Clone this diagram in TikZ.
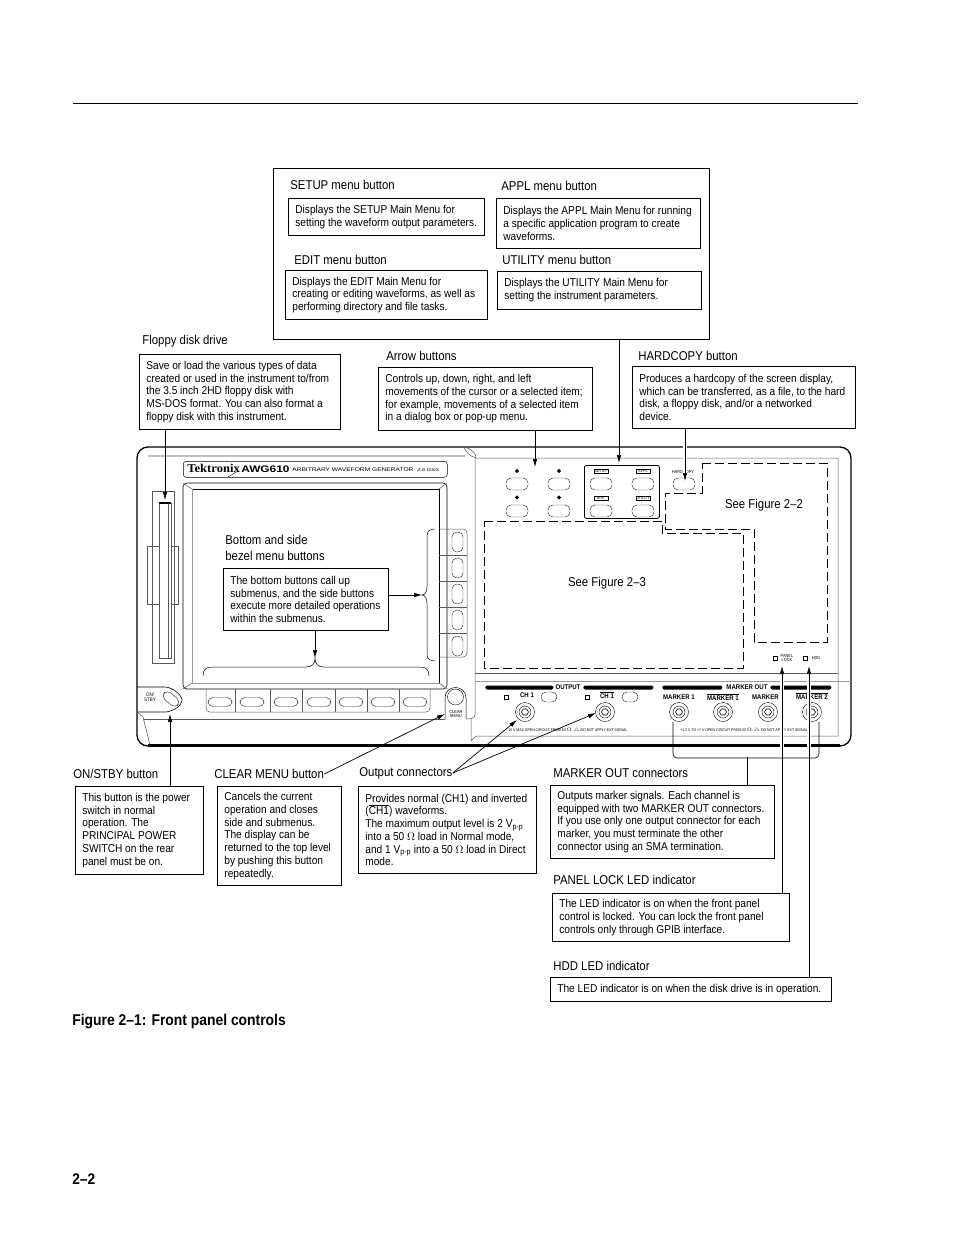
\documentclass[tikz,border=0pt]{standalone}
\usepackage{fontspec}
\setmainfont{Liberation Sans}[FakeStretch=0.89]
\newfontfamily\logoserif{Liberation Serif}[FakeStretch=1.05]
\newfontfamily\widesans{Liberation Sans}[FakeStretch=1.25]
\usetikzlibrary{arrows.meta}
\usetikzlibrary{shapes.geometric}
\tikzset{
  infobox/.style={draw=black,line width=0.8pt,anchor=north west,align=flush left,inner xsep=7pt,inner ysep=0pt,font=\fontsize{11.4}{12.75}\selectfont,execute at end node={\rightskip=-6pt plus 1fil\relax}},
  boxw/.code={\pgfmathsetmacro\boxtextw{#1-14}\tikzset{text width=\boxtextw pt}},
  tag/.style={anchor=west,inner sep=0pt,font=\fontsize{12.8}{15.8}\selectfont,align=left},
  capsule/.style={draw=black!80,line width=0.45pt,rounded corners=5pt,minimum width=22pt,minimum height=12pt,inner sep=0pt},
  tiny/.style={inner sep=0pt,font=\fontsize{4.4}{4.8}\selectfont,align=center},
  tinybold/.style={inner sep=0pt,font=\fontsize{6.8}{7}\selectfont\bfseries},
  blackbar/.style={draw=none,fill=black,rounded corners=1.5pt,anchor=west,inner sep=0pt,minimum height=4pt},
  ledlamp/.style={draw=black,line width=0.4pt,inner sep=0pt,minimum size=4pt},
  jack/.style={draw=black,line width=0.4pt,circle,inner sep=0pt},
  halo/.style={preaction={draw=white,line width=3.5pt}},
  zone/.style={draw=black,line width=1pt,dash pattern=on 9pt off 4pt},
  thinline/.style={draw=black!65,line width=0.5pt}
}
\begin{document}
\begin{tikzpicture}[x=1pt,y=-1pt,>={Latex[length=8pt,width=4.5pt]},line width=0.7pt]
    \useasboundingbox (0,0) rectangle (954,1235);
    \draw[line width=0.8pt] (73,103) -- (858,103);

    \node[draw=black,line width=0.8pt,anchor=north west,minimum width=436pt,minimum height=171pt,inner sep=0pt] (menuframe) at (273,168) {};
    \node[tag] (setuptag) at (290,185) {SETUP menu button};
    \node[infobox,boxw=196,minimum height=37pt] (setupbox) at (288,198) {Displays the SETUP Main Menu for\\setting the waveform output parameters.};
    \node[tag] (appltag) at (501,186) {APPL menu button};
    \node[infobox,boxw=204,minimum height=50pt] (applbox) at (496,198) {Displays the APPL Main Menu for running\\a specific application program to create\\waveforms.};
    \node[tag] (edittag) at (294,260) {EDIT menu button};
    \node[infobox,boxw=202,minimum height=49pt] (editbox) at (285,270) {Displays the EDIT Main Menu for\\creating or editing waveforms, as well as\\performing directory and file tasks.};
    \node[tag] (utiltag) at (502,260) {UTILITY menu button};
    \node[infobox,boxw=204,minimum height=38pt] (utilbox) at (497,271) {Displays the UTILITY Main Menu for\\setting the instrument parameters.};

    \node[tag] (floppytag) at (142,341) {Floppy disk drive};
    \node[infobox,boxw=201,minimum height=75pt] (floppybox) at (139,354) {Save or load the various types of data\\created or used in the instrument to/from\\the 3.5 inch 2HD floppy disk with\\MS-DOS format. You can also format a\\floppy disk with this instrument.};
    \node[tag] (arrowtag) at (386,356) {Arrow buttons};
    \node[infobox,boxw=214,minimum height=63pt] (arrowbox) at (378,367) {Controls up, down, right, and left\\movements of the cursor or a selected item;\\for example, movements of a selected item\\in a dialog box or pop-up menu.};
    \node[tag] (hardtag) at (638,356) {HARDCOPY button};
    \node[infobox,boxw=223,minimum height=62pt] (hardbox) at (632,366) {Produces a hardcopy of the screen display,\\which can be transferred, as a file, to the hard\\disk, a floppy disk, and/or a networked\\device.};

    \draw[line width=1.3pt,rounded corners=11pt] (137,447) rectangle (851,746);
    \draw[line width=2.4pt] (148,745.5) -- (840,745.5);
    \draw[thinline,line width=1.3pt,draw=black!25] (148,456) -- (465,456);
    \draw[thinline] (476,458) -- (838,458) -- (838,736) -- (476,736) -- (471,741) -- (471,719);
    \draw[thinline] (475,458) -- (475,714) .. controls (475,718) and (472,719) .. (466,719);
    \draw[thinline] (464,447) .. controls (472,449) and (476,453) .. (476,458) .. controls (470,456) and (465,452) .. (464,447);
    \draw[thinline] (475,673) -- (838,673);
    \draw[thinline,draw=black!40] (475,681) -- (851,681);

    \node[draw=black,line width=0.5pt,rounded corners=3pt,anchor=north west,minimum width=264pt,minimum height=16pt,inner sep=0pt] (logobox) at (183,461) {};
    \node[inner sep=0pt,anchor=west,font=\fontsize{12}{12}\logoserif\bfseries] (tekname) at (187,468.5) {Tektronix};
    \draw[line width=0.4pt] (228,477) -- (238,471);
    \node[inner sep=0pt,anchor=west,font=\fontsize{9.5}{10}\widesans\bfseries] (awgname) at (241,469) {AWG610};
    \node[inner sep=0pt,anchor=west,font=\fontsize{5.3}{6}\widesans] (awgtext) at (292,469.5) {ARBITRARY WAVEFORM GENERATOR};
    \node[inner sep=0pt,anchor=west,font=\fontsize{4.5}{5}\widesans\itshape] (gstext) at (417,469.5) {2.6 GS/s};

    \draw[line width=0.6pt,rounded corners=4pt] (183,483) rectangle (447,689);
    \draw[line width=1pt] (192,489) -- (439,489) -- (439,683);
    \draw[thinline,draw=black!40] (192,489) -- (192,683) -- (439,683);
    \draw[thinline] (183,483) -- (192,489) (447,483) -- (439,489) (183,689) -- (192,683) (447,689) -- (439,683);

    \draw[thinline] (152,491) rectangle (174,663);
    \draw[thinline] (147,546) rectangle (178,604);
    \draw[thinline,fill=white] (159,503) rectangle (171,658);
    \draw[thinline] (168.5,503) -- (168.5,658);
    \draw[line width=1.2pt] (159,503) -- (171,503);

    \draw[thinline,rounded corners=4pt] (439,529) -- (467,529) -- (467,657) -- (439,657);
    \foreach \y/\n in {555/a,581/b,607/c,633/d} {
      \draw[thinline] (439,\y) -- (467,\y);
    }
    \foreach \y/\n in {542/a,568/b,594/c,620/d,646/e} {
      \node[capsule,minimum width=11pt,minimum height=20pt] (side\n) at (457.5,\y) {};
    }
    \draw[thinline,rounded corners=4pt] (206,689) -- (206,712) -- (430,712) -- (430,689);
    \foreach \x in {235,270,302,335,367,399} {
      \draw[thinline] (\x,689) -- (\x,712);
    }
    \foreach \x/\n in {220/a,252/b,286/c,319/d,351/e,383/f,415/g} {
      \node[capsule,minimum width=24pt,minimum height=9pt] (bottom\n) at (\x,702) {};
    }

    \draw[line width=0.6pt] (137,687) -- (165,687) .. controls (172,687) and (182,695) .. (182,700) .. controls (182,706) and (172,712) .. (165,712) -- (137,712);
    \node[tiny,font=\fontsize{5}{5.4}\selectfont] (onstbytext) at (150,697) {ON/\\STBY};
    \node[capsule,minimum width=18pt,minimum height=9pt,rotate=-40] (onstbybtn) at (171,699) {};
    \draw[thinline] (137,712) -- (143,717) -- (150,745);
    \draw[thinline] (144,719) -- (445,719);

    \draw[line width=0.5pt] (445,719) -- (445,698) .. controls (445,684) and (466,684) .. (466,698) -- (466,719);
    \node[jack,minimum size=16pt] (clearbtn) at (455.5,697) {};
    \node[tiny] (cleartext) at (456,714) {CLEAR\\MENU};

    \foreach \x/\n in {517/a,559/b} {
      \node[capsule] (uparrow\n) at (\x,484) {};
      \node[capsule] (downarrow\n) at (\x,511) {};
      \node[diamond,fill=black,inner sep=0pt,minimum size=4.5pt] (updot\n) at (\x,471) {};
      \node[diamond,fill=black,inner sep=0pt,minimum size=4.5pt] (downdot\n) at (\x,497.5) {};
    }
    \node[draw=black,line width=0.8pt,rounded corners=2pt,anchor=north west,minimum width=75pt,minimum height=53pt,inner sep=0pt] (menugroup) at (584,465) {};
    \foreach \x/\y/\n/\t in {601/484/setup/SETUP,643/484/appl/APPL,601/511/edit/EDIT,643/511/util/UTILITY} {
      \node[capsule] (\n btn) at (\x,\y) {};
      \node[draw=black,line width=0.4pt,inner sep=0.6pt,minimum width=14pt,font=\fontsize{4}{4}\selectfont] (\n text) at (\x,\y-13) {\t};
    }
    \node[capsule] (hardbtn) at (684,484) {};
    \node[tiny] (hardtext) at (683,471.5) {HARDCOPY};

    \draw[zone] (702,463) -- (827,463) -- (827,642) -- (754,642) -- (754,529) -- (665,529) -- (665,493) -- (702,493) -- cycle;
    \draw[zone] (484,521) -- (662,521) -- (662,533) -- (743,533) -- (743,668) -- (484,668) -- cycle;
    \node[tag,anchor=center] (figtwotext) at (764,505) {See Figure 2--2};
    \node[tag,anchor=center] (figthreetext) at (607,583) {See Figure 2--3};

    \node[ledlamp] (lockled) at (775,658) {};
    \node[tiny] (locktext) at (787,658) {PANEL\\LOCK};
    \node[ledlamp] (hddled) at (805,658) {};
    \node[tiny] (hddtext) at (816,658) {HDD};

    \node[blackbar,minimum width=68pt] (outbara) at (485,687.5) {};
    \node[tinybold] (outputtext) at (568,687.5) {OUTPUT};
    \node[blackbar,minimum width=70pt] (outbarb) at (583,687.5) {};
    \node[blackbar,minimum width=60pt] (markbara) at (662,687.5) {};
    \node[tinybold] (markouttext) at (747,687.5) {MARKER OUT};
    \node[blackbar,minimum width=61pt] (markbarb) at (770,687.5) {};

    \node[ledlamp] (chled) at (506,697) {};
    \node[tinybold] (chtext) at (527,695) {CH 1};
    \node[capsule,minimum width=16pt,minimum height=10pt] (chbtn) at (549,697) {};
    \node[ledlamp] (invled) at (587,697) {};
    \node[tinybold] (invtext) at (607,695) {$\overline{\mbox{CH 1}}$};
    \node[capsule,minimum width=16pt,minimum height=10pt] (invbtn) at (630,697) {};
    \node[tinybold] (marktexta) at (679,697) {MARKER 1};
    \node[tinybold] (marktextb) at (723,697) {$\overline{\mbox{MARKER 1}}$};
    \node[tinybold] (marktextc) at (768,697) {MARKER 2};
    \node[tinybold] (marktextd) at (812,696) {$\overline{\mbox{MARKER 2}}$};

    \foreach \x/\n in {525/a,605/b,679/c,723/d,768/e,812/f} {
      \node[jack,minimum size=19pt] (jack\n) at (\x,712) {};
      \node[jack,minimum size=12pt] (ring\n) at (\x,712) {};
      \node[regular polygon,regular polygon sides=6,draw=black,line width=0.6pt,inner sep=0pt,minimum size=7pt] (nut\n) at (\x,712) {};
    }
    \node[tiny,font=\fontsize{3.9}{4}\selectfont,anchor=west] (outlimit) at (508,730) {15 V MAX OPEN CIRCUIT FROM 50 $\Omega$ \ $\triangle$ DO NOT APPLY EXT SIGNAL};
    \node[tiny,font=\fontsize{3.9}{4}\selectfont,anchor=west] (marklimit) at (680,730) {+1.2 V TO +7 V OPEN CIRCUIT FROM 50 $\Omega$ \ $\triangle$ DO NOT APPLY EXT SIGNAL};

    \node[tag] (bezeltag) at (225,548) {Bottom and side\\bezel menu buttons};
    \node[infobox,boxw=165,minimum height=62pt] (bezelbox) at (223,568) {The bottom buttons call up\\submenus, and the side buttons\\execute more detailed operations\\within the submenus.};
    \coordinate (sidetip) at (422,595);
    \coordinate (bottomtip) at (315,658);
    \draw[line width=0.5pt] (435,529) .. controls (430,529) and (427,531) .. (427,536) -- (427,586) .. controls (427,592) and (425,595) .. (sidetip) .. controls (425,595) and (427,598) .. (427,604) -- (427,654) .. controls (427,659) and (430,661) .. (435,661);
    \draw[line width=0.5pt] (203,676) .. controls (203,670) and (206,667) .. (211,667) -- (306,667) .. controls (312,667) and (315,664) .. (bottomtip) .. controls (315,664) and (318,667) .. (324,667) -- (421,667) .. controls (426,667) and (429,670) .. (429,676);
    \path [->] (bezelbox.east |- sidetip) edge node {} (sidetip);
    \path [->] (bezelbox.south -| bottomtip) edge node {} (bottomtip);

    \coordinate (floppytip) at (165,500);
    \coordinate (arrowtip) at (535,467);
    \coordinate (menutip) at (619,463);
    \coordinate (hardtip) at (685,481);
    \path [->] (floppybox.south -| floppytip) edge node {} (floppytip);
    \path [->] (arrowbox.south -| arrowtip) edge node {} (arrowtip);
    \path [->] (menuframe.south -| menutip) edge node {} (menutip);
    \path [->] (hardbox.south -| hardtip) edge[halo] node {} (hardtip);

    \node[tag] (onstbytag) at (73,774) {ON/STBY button};
    \node[infobox,boxw=128,minimum height=88pt] (onstbybox) at (75,786) {This button is the power\\switch in normal\\operation. The\\PRINCIPAL POWER\\SWITCH on the rear\\panel must be on.};
    \node[tag] (cleartag) at (214,774) {CLEAR MENU button};
    \node[infobox,boxw=124,minimum height=99pt] (clearbox) at (217,786) {Cancels the current\\operation and closes\\side and submenus.\\The display can be\\returned to the top level\\by pushing this button\\repeatedly.};
    \node[tag] (outtag) at (359,773) {Output connectors};
    \node[infobox,boxw=178,minimum height=87pt] (outbox) at (358,786) {Provides normal (CH1) and inverted\\($\overline{\mbox{CH1}}$) waveforms.\\The maximum output level is 2 V\textsubscript{p-p}\\into a 50 $\Omega$ load in Normal mode,\\and 1 V\textsubscript{p-p} into a 50 $\Omega$ load in Direct\\mode.};
    \node[tag] (marktag) at (553,773) {MARKER OUT connectors};
    \node[infobox,boxw=224,minimum height=73pt] (markbox) at (550,785) {Outputs marker signals. Each channel is\\equipped with two MARKER OUT connectors.\\If you use only one output connector for each\\marker, you must terminate the other\\connector using an SMA termination.};
    \node[tag] (locktag) at (553,880) {PANEL LOCK LED indicator};
    \node[infobox,boxw=237,minimum height=48pt] (lockbox) at (552,893) {The LED indicator is on when the front panel\\control is locked. You can lock the front panel\\controls only through GPIB interface.};
    \node[tag] (hddtag) at (553,966) {HDD LED indicator};
    \node[infobox,boxw=281,minimum height=24pt] (hddbox) at (550,977) {The LED indicator is on when the disk drive is in operation.};

    \coordinate (onstbytip) at (170,714);
    \coordinate (cleartip) at (445,714);
    \coordinate (jackatip) at (517,720);
    \coordinate (jackbtip) at (596,713);
    \coordinate (locktip) at (782,666);
    \coordinate (hddtip) at (809,666);
    \path [->] (onstbybox.north -| onstbytip) edge node {} (onstbytip);
    \path [->] (cleartag.east) edge node {} (cleartip);
    \path [->] (outtag.east) edge node {} (jackatip);
    \path [->] (outtag.east) edge node {} (jackbtip);
    \path [->] (lockbox.north -| locktip) edge[halo] node {} (locktip);
    \path [->] (hddbox.north -| hddtip) edge[halo] node {} (hddtip);

    \coordinate (markleft) at (673,722);
    \coordinate (markright) at (819,722);
    \coordinate (markmid) at (747,757);
    \draw[rounded corners=4pt,line width=0.6pt] (markleft) -- (673,758) -- (819,758) -- (markright);
    \draw[line width=0.6pt] (markmid) -- (markbox.north -| markmid);

    \node[tag,font=\fontsize{15.6}{16}\selectfont\bfseries] (figcaption) at (72,1021) {Figure 2--1: Front panel controls};
    \node[tag,font=\fontsize{15.4}{16}\selectfont\bfseries] (pagenumber) at (72,1179) {2--2};
\end{tikzpicture}
\end{document}
